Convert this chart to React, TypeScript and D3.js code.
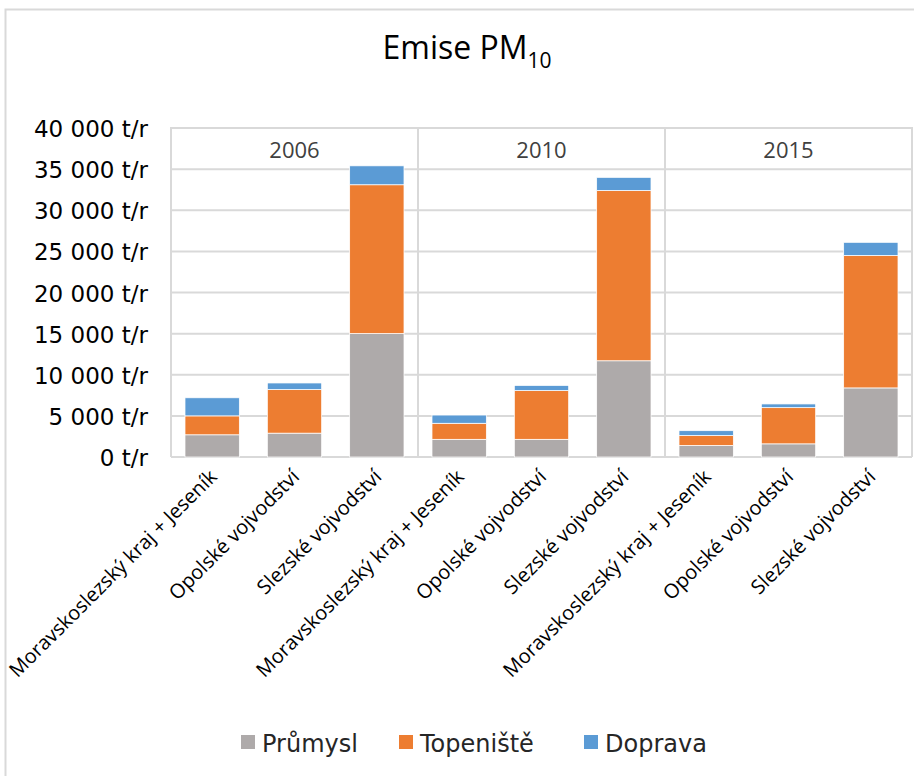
import React, { useRef, useEffect } from 'react';
import * as d3 from 'd3';

const years = ['2006', '2010', '2015'];
const regions = ['Moravskoslezský kraj + Jeseník', 'Opolské vojvodství', 'Slezské vojvodství'];
// one value per (year, region), in order 2006 x3, 2010 x3, 2015 x3
const prumysl = [2700, 2900, 15000, 2150, 2150, 11700, 1400, 1600, 8400];
const topeniste = [2300, 5300, 18100, 1950, 5920, 20700, 1200, 4400, 16100];
const doprava = [2200, 800, 2300, 1000, 630, 1600, 600, 450, 1600];
const seriesNames = ['Průmysl', 'Topeniště', 'Doprava'];
const colors = ['#AEAAAA', '#ED7D31', '#5B9BD5'];
const yTicks = [0, 5000, 10000, 15000, 20000, 25000, 30000, 35000, 40000];

const width = 914;
const height = 776;

const App = () => {
  const svgRef = useRef(null);

  useEffect(() => {
    const svg = d3.select(svgRef.current);
    svg.selectAll('*').remove();

    const left = 171, right = 912, top = 128, bottom = 457;

    // frame
    svg.append('rect')
      .attr('x', 5.5).attr('y', 9.5)
      .attr('width', 930).attr('height', 800)
      .attr('fill', '#fff')
      .attr('stroke', '#d9d9d9')
      .attr('stroke-width', 2);

    // title
    const title = svg.append('text')
      .attr('x', 467).attr('y', 59)
      .attr('text-anchor', 'middle')
      .style('font-family', '"Open Sans", sans-serif')
      .style('font-size', '32px')
      .attr('fill', '#000');
    title.append('tspan').text('Emise PM');
    title.append('tspan').attr('dy', 9).style('font-size', '21px').text('10');

    const keys = d3.range(prumysl.length).map(String);
    const x = d3.scaleBand()
      .domain(keys)
      .range([left, right])
      .paddingInner(0.34)
      .paddingOuter(0.17);
    const y = d3.scaleLinear().domain([0, 40000]).range([bottom, top]);

    // gridlines
    svg.append('g')
      .selectAll('line')
      .data(yTicks)
      .enter()
      .append('line')
        .attr('x1', left).attr('x2', right)
        .attr('y1', d => y(d)).attr('y2', d => y(d))
        .attr('stroke', '#d9d9d9')
        .attr('stroke-width', 2);

    // y labels
    svg.append('g')
      .selectAll('text')
      .data(yTicks)
      .enter()
      .append('text')
        .attr('x', 148)
        .attr('y', d => y(d) + 9)
        .attr('text-anchor', 'end')
        .style('font-family', '"DejaVu Sans", sans-serif')
        .style('font-size', '23px')
        .attr('fill', '#000')
        .text(d => d3.format(',')(d).replace(/,/g, ' ') + ' t/r');

    // panel separators and year headers
    const panelW = (right - left) / years.length;
    svg.append('g')
      .selectAll('line')
      .data(d3.range(years.length + 1))
      .enter()
      .append('line')
        .attr('x1', i => left + i * panelW).attr('x2', i => left + i * panelW)
        .attr('y1', top - 1).attr('y2', bottom)
        .attr('stroke', '#d9d9d9')
        .attr('stroke-width', 2);

    svg.append('g')
      .selectAll('text')
      .data(years)
      .enter()
      .append('text')
        .attr('x', (d, i) => left + (i + 0.5) * panelW)
        .attr('y', 158)
        .attr('text-anchor', 'middle')
        .style('font-family', '"Open Sans", sans-serif')
        .style('font-size', '22px')
        .attr('fill', '#404040')
        .text(d => d);

    // stacked bars
    const rows = keys.map((k, i) => ({ key: k, p: prumysl[i], t: topeniste[i], d: doprava[i] }));
    const stack = d3.stack().keys(['p', 't', 'd']);
    const layers = stack(rows);

    svg.append('g')
      .selectAll('g')
      .data(layers)
      .enter()
      .append('g')
        .attr('fill', (d, i) => colors[i])
      .selectAll('rect')
      .data(d => d)
      .enter()
      .append('rect')
        .attr('x', d => x(d.data.key))
        .attr('width', x.bandwidth())
        .attr('y', d => y(d[1]))
        .attr('height', d => y(d[0]) - y(d[1]))
        .attr('stroke', '#fff')
        .attr('stroke-width', 0.75);

    // x labels
    svg.append('g')
      .selectAll('text')
      .data(keys)
      .enter()
      .append('text')
        .attr('transform', d => 'translate(' + (x(d) + x.bandwidth() / 2 + 6) + ',' + 478 + ') rotate(-45)')
        .attr('text-anchor', 'end')
        .style('font-family', '"Open Sans", sans-serif')
        .style('font-size', '20px')
        .attr('fill', '#000')
        .text((d, i) => regions[i % regions.length]);

    // legend
    const legendX = [241, 399, 584];
    const lg = svg.append('g')
      .selectAll('g')
      .data(seriesNames)
      .enter()
      .append('g')
        .attr('transform', (d, i) => 'translate(' + legendX[i] + ',735)');
    lg.append('rect')
      .attr('width', 14).attr('height', 14)
      .attr('fill', (d, i) => colors[i]);
    lg.append('text')
      .attr('x', 21).attr('y', 17)
      .style('font-family', '"DejaVu Sans", sans-serif')
      .style('font-size', '24px')
      .attr('fill', '#262626')
      .text(d => d);
  }, [svgRef]);

  return (
    <svg ref={svgRef} width={width} height={height}
      style={{ position: 'absolute', left: 0, top: 0, background: '#fff' }}></svg>
  );
};

export default App;
